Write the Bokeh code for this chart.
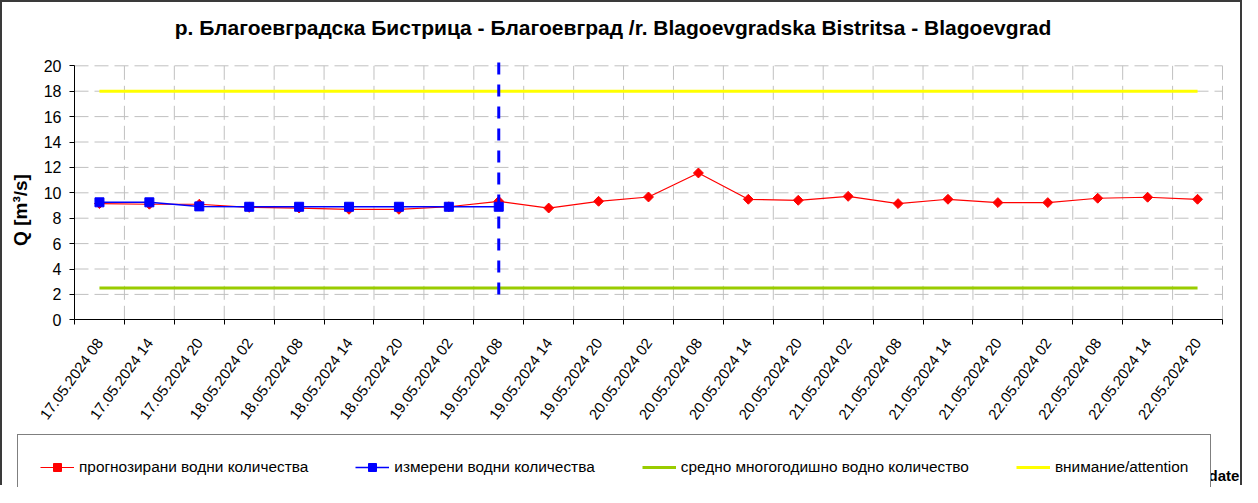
import math
from bokeh.plotting import figure
from bokeh.models import Range1d, FixedTicker, Legend, LegendItem, Label
from bokeh.embed import file_html
from bokeh.resources import INLINE

# ---------------- data ----------------
labels = [
    "17.05.2024 08", "17.05.2024 14", "17.05.2024 20",
    "18.05.2024 02", "18.05.2024 08", "18.05.2024 14", "18.05.2024 20",
    "19.05.2024 02", "19.05.2024 08", "19.05.2024 14", "19.05.2024 20",
    "20.05.2024 02", "20.05.2024 08", "20.05.2024 14", "20.05.2024 20",
    "21.05.2024 02", "21.05.2024 08", "21.05.2024 14", "21.05.2024 20",
    "22.05.2024 02", "22.05.2024 08", "22.05.2024 14", "22.05.2024 20",
]
forecast = [9.15, 9.1, 9.1, 8.85, 8.8, 8.7, 8.7, 8.9, 9.33, 8.8, 9.33, 9.67,
            11.56, 9.49, 9.41, 9.72, 9.15, 9.49, 9.23, 9.23, 9.57, 9.65, 9.49]
measured = [9.25, 9.25, 8.93, 8.9, 8.9, 8.9, 8.9, 8.9, 8.9]
mean_q = 2.5
attention = 18.0
now_label = "19.05.2024 08"
now_span = [2.0, 20.8]
y_ticks = list(range(0, 21, 2))

title_text = "р. Благоевградска Бистрица - Благоевград /r. Blagoevgradska Bistritsa - Blagoevgrad"
y_label = "Q [m³/s]"
x_label = "date"
legend_labels = ["прогнозирани водни количества", "измерени водни количества",
                 "средно многогодишно водно количество", "внимание/attention"]

FONT = "Liberation Sans"

# ---------------- layout (canvas pixels) ----------------
W, H = 1242, 485
PL, PR = 72.0, 1220.0        # plot-area left/right on the canvas
PT, PB = 63.3, 317.3         # canvas y of the top tick value and of 0

n = len(labels)
xc = [i + 0.5 for i in range(n)]
bounds_x = list(range(n + 1))
ymax = y_ticks[-1]

sx = (PR - PL) / n
sy = (PB - PT) / ymax
x_range = Range1d(-PL / sx, n + (W - PR) / sx)
y_range = Range1d(-(H - PB) / sy, ymax + PT / sy)

p = figure(width=W, height=H, output_backend="svg", toolbar_location=None, tools="",
           x_range=x_range, y_range=y_range,
           min_border=0, min_border_left=0, min_border_right=0,
           min_border_top=0, min_border_bottom=0,
           styles={"border-top": "2px solid #3a3a3a", "border-left": "2px solid #3a3a3a",
                   "border-right": "2px solid #3a3a3a"})
p.title.visible = False
p.outline_line_color = None
p.background_fill_color = "white"
p.border_fill_color = "white"
p.xgrid.visible = False
p.ygrid.visible = False

# axes drawn at the data origin, inside the frame
xa = p.xaxis[0]
xa.fixed_location = 0
xa.bounds = (0, n)
xa.ticker = FixedTicker(ticks=xc, minor_ticks=bounds_x)
xa.major_label_overrides = {x: lab for x, lab in zip(xc, labels)}
xa.major_tick_out = 0
xa.major_tick_in = 0
xa.minor_tick_out = 5
xa.minor_tick_in = 0
xa.minor_tick_line_color = "black"
xa.axis_line_color = "black"
xa.major_label_orientation = math.radians(54)
xa.major_label_text_font = FONT
xa.major_label_text_font_size = "15px"
xa.major_label_text_color = "black"
xa.major_label_standoff = 15

ya = p.yaxis[0]
ya.fixed_location = 0
ya.bounds = (0, ymax)
ya.ticker = FixedTicker(ticks=y_ticks)
ya.major_tick_out = 5
ya.major_tick_in = 0
ya.minor_tick_out = 0
ya.minor_tick_in = 0
ya.axis_line_color = "black"
ya.major_tick_line_color = "black"
ya.major_label_text_font = FONT
ya.major_label_text_font_size = "16px"
ya.major_label_text_color = "black"
ya.major_label_standoff = 8

# grid lines (dashed, light grey) bounded to the plot area
GRID = "#c0c0c0"
p.segment(x0=[0] * (len(y_ticks) - 1), y0=y_ticks[1:], x1=[n] * (len(y_ticks) - 1), y1=y_ticks[1:],
          line_color=GRID, line_width=1, line_dash="14 6")
p.segment(x0=bounds_x[1:], y0=[0] * n, x1=bounds_x[1:], y1=[ymax] * n,
          line_color=GRID, line_width=1, line_dash="14 6")

# reference lines
g = p.line([xc[0], xc[-1]], [mean_q, mean_q], line_color="#99CC00", line_width=3)
yl = p.line([xc[0], xc[-1]], [attention, attention], line_color="#FFFF00", line_width=3)

# forecast
rl = p.line(xc, forecast, line_color="#FF0000", line_width=1.2)
rm = p.scatter(xc, forecast, marker="square", angle=math.pi / 4, size=7,
               fill_color="#FF0000", line_color="#FF0000")

# measured
xm = xc[:len(measured)]
bl = p.line(xm, measured, line_color="#0000FF", line_width=1.5)
bm = p.scatter(xm, measured, marker="square", size=9, fill_color="#0000FF", line_color="#0000FF")

# forecast start line
xi = xc[labels.index(now_label)]
p.line([xi, xi], now_span, line_color="#0000FF", line_width=3, line_dash="12 10")

legend = Legend(items=[
    LegendItem(label=legend_labels[0], renderers=[rl, rm]),
    LegendItem(label=legend_labels[1], renderers=[bl, bm]),
    LegendItem(label=legend_labels[2], renderers=[g]),
    LegendItem(label=legend_labels[3], renderers=[yl]),
], orientation="horizontal", location=(15, -13))
legend.padding = 22
legend.spacing = 47
legend.glyph_width = 34
legend.glyph_height = 20
legend.label_height = 20
legend.label_standoff = 5
legend.label_text_font = FONT
legend.label_text_font_size = "15.4px"
legend.label_text_color = "black"
legend.border_line_color = "black"
legend.border_line_width = 1
legend.background_fill_color = "white"
legend.background_fill_alpha = 1
legend.margin = 0
p.add_layout(legend)

p.add_layout(Label(x=610.5, y=H - 25, x_units="screen", y_units="screen", text=title_text,
                   text_align="center", text_baseline="alphabetic", text_font=FONT,
                   text_font_size="21px", text_font_style="bold", text_color="black"))
p.add_layout(Label(x=17.5, y=H - 207.5, x_units="screen", y_units="screen", text=y_label,
                   angle=math.pi / 2, text_align="center", text_baseline="middle",
                   text_font=FONT, text_font_size="19px", text_font_style="bold",
                   text_color="black"))
p.add_layout(Label(x=1206, y=12, x_units="screen", y_units="screen", text=x_label,
                   text_align="left", text_baseline="alphabetic", text_font=FONT,
                   text_font_size="15px", text_font_style="bold", text_color="black"))

open("out.html", "w").write(file_html(p, INLINE))
